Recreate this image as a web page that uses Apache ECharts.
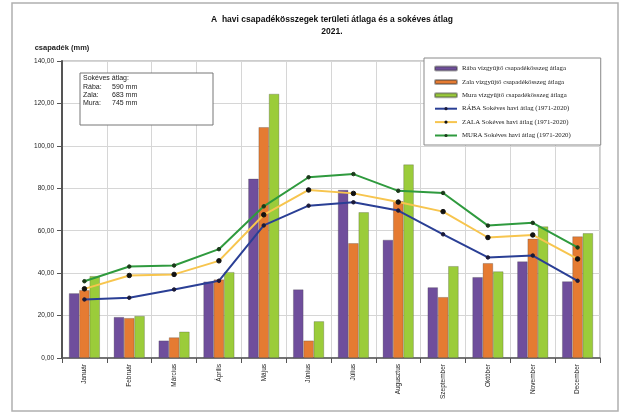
<!DOCTYPE html>
<html>
<head>
<meta charset="utf-8">
<script src="https://cdn.jsdelivr.net/npm/echarts@6/dist/echarts.min.js"></script>
<style>
  html, body { margin: 0; padding: 0; background: #fff; }
  #chart { width: 622px; height: 414px; }
</style>
</head>
<body>
<div id="chart"></div>
<script>
// Havi csapadékösszegek (mm), 2021
const months = ['Január', 'Február', 'Március', 'Április', 'Május', 'Június',
  'Július', 'Augusztus', 'Szeptember', 'Október', 'November', 'December'];

const raba2021 = [30.5, 19.3, 8.2, 36.0, 84.5, 32.3, 79.2, 55.7, 33.3, 38.1, 45.5, 36.1];
const zala2021 = [32.0, 18.8, 9.7, 37.0, 108.8, 8.2, 54.1, 73.9, 28.7, 44.7, 56.2, 57.3];
const mura2021 = [38.6, 19.8, 12.4, 40.5, 124.5, 17.3, 68.7, 91.2, 43.3, 40.8, 62.0, 58.8];

// Sokéves havi átlagok (1971-2020)
const rabaAvg = [27.6, 28.4, 32.3, 36.4, 62.5, 71.8, 73.4, 69.5, 58.3, 47.4, 48.3, 36.4];
const zalaAvg = [32.6, 38.9, 39.4, 45.8, 67.5, 79.2, 77.6, 73.5, 69.0, 56.8, 58.0, 46.7];
const muraAvg = [36.2, 43.1, 43.6, 51.3, 71.5, 85.2, 86.7, 78.8, 77.8, 62.4, 63.7, 52.1];

const yTicks = { min: 0, max: 140, interval: 20 };

const seriesNames = [
  'Rába vízgyűjtő csapadékösszeg átlaga',
  'Zala vízgyűjtő csapadékösszeg átlaga',
  'Mura vízgyűjtő csapadékösszeg átlaga',
  'RÁBA Sokéves havi átlag (1971-2020)',
  'ZALA Sokéves havi átlag (1971-2020)',
  'MURA Sokéves havi átlag (1971-2020)'
];

const chart = echarts.init(document.getElementById('chart'), null, { renderer: 'canvas' });

function bar(name, data, color) {
  return {
    name, type: 'bar', data,
    barGap: '0%', barCategoryGap: '31%',
    itemStyle: { color, borderColor: 'rgba(60,60,60,0.45)', borderWidth: 0.6 },
    z: 2
  };
}
function line(name, data, color, dotSize, dotColor) {
  return {
    name, type: 'line', data,
    symbol: 'circle', symbolSize: dotSize,
    lineStyle: { color, width: 2 },
    itemStyle: { color: dotColor, borderColor: dotColor },
    z: 5
  };
}

const boxFont = '7px "Liberation Sans"';
const boxZ = 60;

chart.setOption({
  animation: false,
  backgroundColor: '#fff',
  title: {
    text: 'A  havi csapadékösszegek területi átlaga és a sokéves átlag\n2021.',
    left: 327, top: 9, textAlign: 'center',
    textStyle: { fontFamily: 'Liberation Sans', fontSize: 8.5, fontWeight: 'bold', color: '#111', lineHeight: 12 }
  },
  legend: {
    orient: 'vertical',
    left: 424, top: 58,
    itemWidth: 22, itemHeight: 4, itemGap: 6.4,
    padding: [7, 30, 6, 10],
    backgroundColor: '#fff',
    borderColor: '#8a8a8a', borderWidth: 1,
    data: seriesNames,
    textStyle: { fontFamily: 'Liberation Serif', fontSize: 6.8, color: '#222' }
  },
  grid: { left: 62, right: 22, top: 61, bottom: 56, show: true, borderColor: '#9a9a9a', borderWidth: 1 },
  xAxis: {
    type: 'category', data: months,
    axisLine: { lineStyle: { color: '#555', width: 1.5 } },
    axisTick: { show: true, alignWithLabel: false, lineStyle: { color: '#555' } },
    splitLine: { show: true, lineStyle: { color: '#d6d6d6', width: 1 } },
    axisLabel: { rotate: 90, interval: 0, fontFamily: 'Liberation Sans', fontSize: 6.5, color: '#222', margin: 6 }
  },
  yAxis: {
    type: 'value', min: yTicks.min, max: yTicks.max, interval: yTicks.interval,
    name: 'csapadék (mm)',
    nameLocation: 'end', nameGap: 9,
    nameTextStyle: { fontFamily: 'Liberation Sans', fontSize: 7.5, fontWeight: 'bold', color: '#222', align: 'center' },
    axisLine: { show: true, lineStyle: { color: '#555', width: 2 } },
    axisTick: { show: true, lineStyle: { color: '#555' } },
    splitLine: { lineStyle: { color: '#d6d6d6', width: 1 } },
    axisLabel: {
      fontFamily: 'Liberation Sans', fontSize: 6.5, color: '#222', margin: 8,
      formatter: v => v.toFixed(2).replace('.', ',')
    }
  },
  series: [
    bar(seriesNames[0], raba2021, '#6f4e9c'),
    bar(seriesNames[1], zala2021, '#e57b32'),
    bar(seriesNames[2], mura2021, '#9bcc3a'),
    line(seriesNames[3], rabaAvg, '#2a3f95', 3.5, '#1a1a3a'),
    line(seriesNames[4], zalaAvg, '#f7c54e', 4.5, '#111'),
    line(seriesNames[5], muraAvg, '#2f9a3e', 3.5, '#1a3a1a')
  ],
  graphic: [
    { type: 'rect', shape: { x: 12, y: 3, width: 606, height: 408 },
      style: { fill: 'none', stroke: '#b0b0b0', lineWidth: 1.5 }, z: -10 },
    { type: 'rect', z: boxZ, shape: { x: 80, y: 73, width: 133, height: 52 },
      style: { fill: '#fff', stroke: '#777', lineWidth: 1 } },
    { type: 'text', z: boxZ + 1, x: 83, y: 75, style: { text: 'Sokéves átlag:', font: boxFont, fill: '#222' } },
    { type: 'text', z: boxZ + 1, x: 83, y: 84, style: { text: 'Rába:', font: boxFont, fill: '#222' } },
    { type: 'text', z: boxZ + 1, x: 112, y: 84, style: { text: '590 mm', font: boxFont, fill: '#222' } },
    { type: 'text', z: boxZ + 1, x: 83, y: 92, style: { text: 'Zala:', font: boxFont, fill: '#222' } },
    { type: 'text', z: boxZ + 1, x: 112, y: 92, style: { text: '683 mm', font: boxFont, fill: '#222' } },
    { type: 'text', z: boxZ + 1, x: 83, y: 100, style: { text: 'Mura:', font: boxFont, fill: '#222' } },
    { type: 'text', z: boxZ + 1, x: 112, y: 100, style: { text: '745 mm', font: boxFont, fill: '#222' } }
  ]
});
</script>
</body>
</html>
